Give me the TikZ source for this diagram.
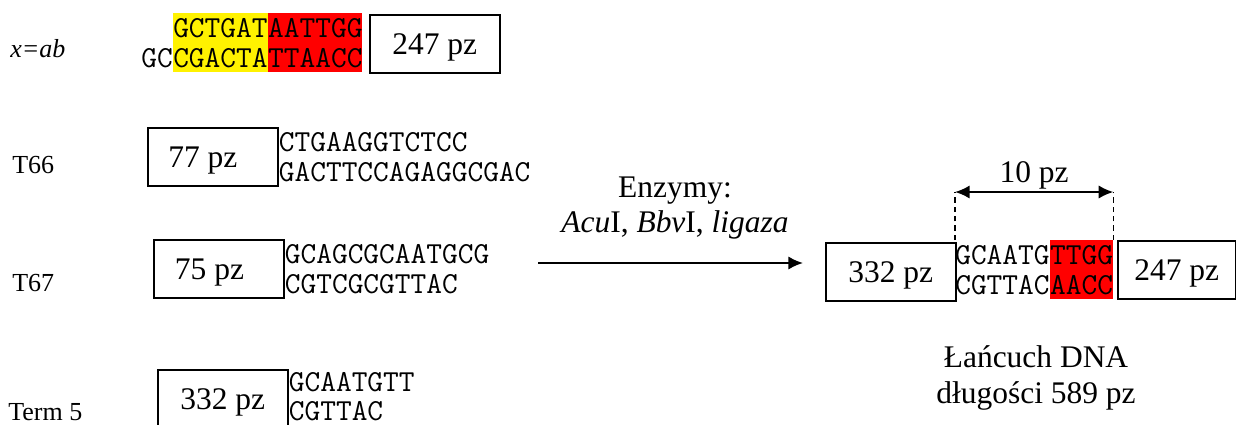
\documentclass[tikz,border=0pt]{standalone}
\usepackage{fontspec}
\setmainfont{Liberation Serif}
\usetikzlibrary{positioning,arrows.meta}
\newcommand\pzfont{\fontsize{23.6pt}{26.5pt}\selectfont}
\newcommand\namefont{\fontsize{19.5pt}{22pt}\selectfont}
\newcommand\seqfont{\fontsize{22.9pt}{22pt}\selectfont\ttfamily}
\tikzset{
  >={Latex[length=11pt,width=10pt]},
  x=0.75pt, y=-0.75pt,
}
\tikzstyle{pzbox}=[draw,line width=1.2pt,minimum width=97.5pt,minimum height=43.5pt,inner sep=0pt,text depth=0pt,font=\pzfont]
\tikzstyle{strand}=[inner sep=0pt,text height=18pt,text depth=4pt,font=\seqfont]
\tikzstyle{rowname}=[font=\namefont,anchor=base west,inner sep=0pt]
\tikzstyle{guide}=[line width=1.1pt,dash pattern=on 4pt off 3pt]

\begin{document}
\begin{tikzpicture}
  \useasboundingbox (0,0) rectangle (1236,425);
  % x=ab
  \node[rowname] (xab) at (10,57) {\textit{x=ab}};
  \node[strand,fill=yellow,anchor=north west] (ab1) at (173,13) {GCTGAT};
  \node[strand,fill=red,right=0pt of ab1] (ab2) {AATTGG};
  \node[strand,fill=yellow,below=0pt of ab1] (ab3) {CGACTA};
  \node[strand,fill=red,right=0pt of ab3] (ab4) {TTAACC};
  \node[strand,left=0pt of ab3] (ab5) {GC};
  \node[pzbox,anchor=north west] (b247) at (369,14) {247 pz};
  % T66
  \node[rowname] (t66) at (12,173) {T66};
  \node[pzbox,anchor=north west] (b77) at (147,127) {77 pz\kern15pt};
  \node[strand,anchor=north west] (s66a) at (b77.north east) {CTGAAGGTCTCC};
  \node[strand,anchor=north west] (s66b) at (s66a.south west) {GACTTCCAGAGGCGAC};
  % T67
  \node[rowname] (t67) at (12,291) {T67};
  \node[pzbox,anchor=north west] (b75) at (153,239) {75 pz\kern14pt};
  \node[strand,anchor=north west] (s67a) at (b75.north east) {GCAGCGCAATGCG};
  \node[strand,anchor=north west] (s67b) at (s67a.south west) {CGTCGCGTTAC};
  % Term 5
  \node[rowname] (term5) at (8,420) {Term 5};
  \node[pzbox,anchor=north west] (b332) at (157,369) {332 pz};
  \node[strand,text depth=1pt,anchor=base west] (s5a) at ([yshift=-16.5pt]b332.north east) {GCAATGTT};
  \node[strand,text height=14pt,text depth=1pt,anchor=base west] (s5b) at ([yshift=-21.75pt]s5a.base west) {CGTTAC};
  % reaction
  \node[font=\pzfont,align=center] (enz) at (675,208) {Enzymy:\\\textit{Acu}I, \textit{Bbv}I, \textit{ligaza}};
  \coordinate (from) at (538,263);
  \coordinate (to) at (803,263);
  \draw[->,line width=1.5pt] (from) -- (to);
  % product
  \node[pzbox,anchor=north west] (r332) at (825,242) {332 pz};
  \node[strand,anchor=north west] (r1) at (955,240) {GCAATG};
  \node[strand,fill=red,right=0pt of r1] (r2) {TTGG};
  \node[strand,anchor=north west] (r3) at (r1.south west) {CGTTAC};
  \node[strand,fill=red,right=0pt of r3] (r4) {AACC};
  \node[pzbox,anchor=north west,minimum width=88.5pt] (r247) at (1117,240) {247 pz};
  \coordinate (dl) at ([yshift=36pt]r1.north west);
  \coordinate (dr) at ([yshift=36pt]r2.north east);
  \draw[guide] (r1.north west) -- (dl);
  \draw[guide] (r2.north east) -- (dr);
  \draw[<->,line width=1.5pt] (dl) -- (dr) node[midway,above=1pt,inner sep=0pt,font=\pzfont] (ten) {10 pz};
  \node[font=\pzfont,align=center] (chain) at (1036,378) {Łańcuch DNA\\długości 589 pz};
\end{tikzpicture}
\end{document}
